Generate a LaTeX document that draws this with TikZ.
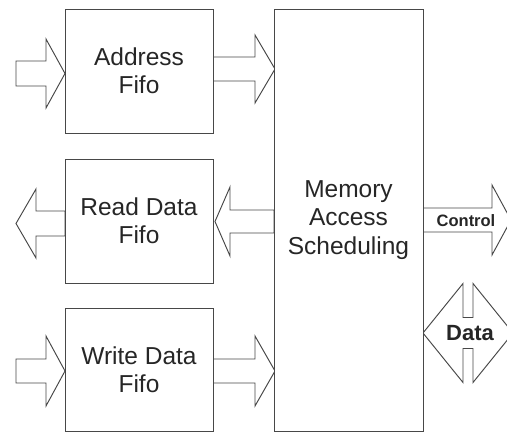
\documentclass[tikz,border=0pt]{standalone}
\usepackage{fontspec}
\setmainfont{Liberation Sans}
\begin{document}
\begin{tikzpicture}[x=1pt,y=-1pt,
  line join=miter,
  box/.style={draw=black!72, line width=0.95pt, fill=white, inner sep=0pt, outer sep=0pt,
    align=center, text=black!85, font=\fontsize{24.5}{28.3}\selectfont},
  blk/.style={draw=black!72, line width=0.95pt, fill=white},
  lbl/.style={inner sep=0pt, text=black!85, font=\bfseries\fontsize{16.5}{18}\selectfont},
  dlbl/.style={inner sep=0pt, text=black!85, font=\bfseries\fontsize{22}{24}\selectfont}]
\useasboundingbox (0,0) rectangle (507,432);
\clip (0,0) rectangle (507,432);
% tail x, head base x, tip x, centre y, shaft half, head half
\newcommand\hblock[6]{%
  \draw[blk] ({#1},{#4-#5}) -- ({#2},{#4-#5}) -- ({#2},{#4-#6}) -- ({#3},{#4})
    -- ({#2},{#4+#6}) -- ({#2},{#4+#5}) -- ({#1},{#4+#5}) -- cycle;}
% block arrows
\hblock{16}{46}{65}{73.5}{12.5}{34.5}
\hblock{213}{255}{275}{69}{12}{34}
\hblock{65}{36}{16}{223.5}{12.5}{34.5}
\hblock{274}{230}{215}{221.5}{11.5}{34.5}
\hblock{16}{46}{65}{371}{12}{35}
\hblock{213}{255}{275}{371}{12}{35}
\hblock{423}{492}{511}{220}{12}{35}
% data double arrow
\draw[blk] (423,333) -- (463,283.5) -- (463,317.5) -- (473,317.5) -- (473,283.5)
  -- (513,333) -- (473,382.5) -- (473,348.5) -- (463,348.5) -- (463,382.5) -- cycle;
% boxes
\node[box, minimum width=148pt, minimum height=124pt] (addr) at (139,71) {Address\\Fifo};
\node[box, minimum width=148pt, minimum height=124pt] (read) at (139,221) {Read Data\\Fifo};
\node[box, minimum width=148pt, minimum height=123pt] (write) at (139,369.5) {Write Data\\Fifo};
\node[box, minimum width=149pt, minimum height=422pt] (mas) at (348.5,220) {Memory\\Access\\Scheduling};
% labels
\node[lbl] (ctl) at (466,221) {Control};
\node[dlbl] (dat) at (470,333.5) {Data};
\end{tikzpicture}
\end{document}
